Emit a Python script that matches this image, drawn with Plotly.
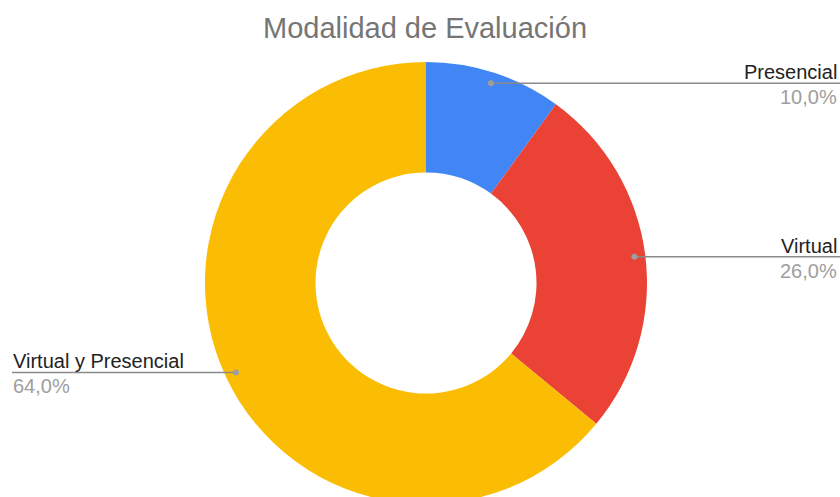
import math
import plotly.graph_objects as go

title = "Modalidad de Evaluación"
labels = ["Presencial", "Virtual", "Virtual y Presencial"]
values = [10.0, 26.0, 64.0]
colors = ["#4285F4", "#EA4335", "#FBBC04"]

W, H = 840, 510
cx, cy, R = 426, 283, 221
dot_r = 210

fig = go.Figure(go.Pie(
    labels=labels, values=values, hole=0.5, sort=False, direction="clockwise",
    rotation=0, textinfo="none", hoverinfo="label+percent",
    marker=dict(colors=colors, line=dict(width=0)),
    domain=dict(x=[(cx - R) / W, (cx + R) / W], y=[(H - (cy + R)) / H, (H - (cy - R)) / H]),
    showlegend=False,
))

shapes, annotations = [], []
total = sum(values)
cum = 0.0
for lab, v in zip(labels, values):
    mid = (cum + v / 2) / total * 2 * math.pi
    cum += v
    px = cx + dot_r * math.sin(mid)
    py = cy - dot_r * math.cos(mid)
    right = math.sin(mid) >= 0
    xe = 840 if right else 12
    xt = 839 if right else 11
    anchor = "right" if right else "left"
    yp = (H - py) / H
    shapes.append(dict(type="line", xref="paper", yref="paper", x0=px / W, x1=xe / W, y0=yp, y1=yp,
                       line=dict(color="#8a8a8a", width=1.5)))
    shapes.append(dict(type="circle", xref="paper", yref="paper",
                       x0=(px - 3) / W, x1=(px + 3) / W, y0=(H - py - 3) / H, y1=(H - py + 3) / H,
                       fillcolor="#9e9e9e", line=dict(width=0)))
    annotations.append(dict(text=lab, xref="paper", yref="paper", x=xt / W, y=yp - 2 / H, xanchor=anchor,
                            yanchor="bottom", showarrow=False, font=dict(size=20, color="#222222")))
    annotations.append(dict(text=f"{v:.1f}%".replace(".", ","), xref="paper", yref="paper", x=xt / W,
                            y=yp - 1 / H, xanchor=anchor, yanchor="top", showarrow=False,
                            font=dict(size=20, color="#9e9e9e")))

fig.update_layout(
    width=W, height=H, margin=dict(l=0, r=0, t=0, b=0),
    paper_bgcolor="white", plot_bgcolor="white",
    font=dict(family="Liberation Sans, Arial, sans-serif"),
    title=dict(text=title, x=425 / W, xanchor="center", y=(H - 28) / H, yanchor="middle",
               font=dict(size=29, color="#757575")),
    shapes=shapes, annotations=annotations,
)

fig.write_html("out.html", config={"displayModeBar": False},
               post_script="document.body.style.margin='0';document.body.style.overflow='hidden';")
